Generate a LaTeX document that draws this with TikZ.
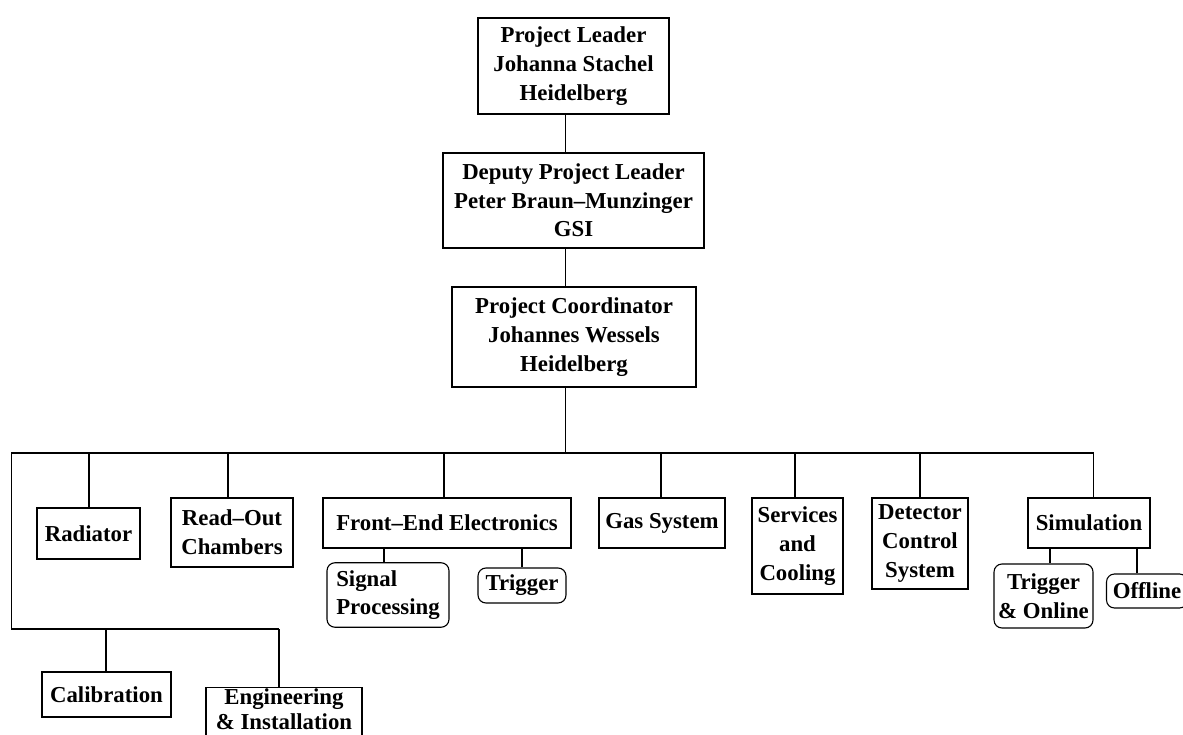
\documentclass[tikz,border=0pt]{standalone}
\usepackage{fontspec}
\setmainfont{Liberation Serif}
\begin{document}
\begin{tikzpicture}[x=1pt,y=-1pt,
  every node/.style={font=\fontsize{22.8}{28.7}\selectfont\bfseries},
  box/.style={draw, line width=1.1pt, inner sep=0pt, align=center},
  rbox/.style={box, rounded corners=8pt},
  link/.style={line width=1.1pt}]
\path[use as bounding box, fill=white] (0,0) rectangle (1183,735);
\clip (0,0) rectangle (1183,735);
% top chain
\node[box, minimum width=191pt, minimum height=96pt] (pl) at (573.5,66) {Project Leader\\Johanna Stachel\\Heidelberg};
\node[box, minimum width=261pt, minimum height=95pt] (dpl) at (573.5,200.5) {Deputy Project Leader\\Peter Braun–Munzinger\\GSI};
\node[box, minimum width=244pt, minimum height=100pt] (pc) at (574,337) {Project Coordinator\\Johannes Wessels\\Heidelberg};
\coordinate (spine) at (565.5,0);
\draw[link] (pl.south -| spine) -- (dpl.north -| spine);
\draw[link] (dpl.south -| spine) -- (pc.north -| spine);
% bus
\coordinate (busL) at (11.5,453);
\coordinate (busR) at (1093.5,453);
\coordinate (low) at (11.5,629);
\coordinate (lowR) at (279,629);
\draw[link] (pc.south -| spine) -- (busL -| spine);
\draw[link] (lowR) -- (low) -- (busL) -- (busR);
% first row
\node[box, minimum width=103pt, minimum height=51pt] (rad) at (88.5,533.5) {Radiator};
\node[box, minimum width=122pt, minimum height=69pt] (roc) at (232,532.5) {Read–Out\\Chambers};
\node[box, minimum width=248pt, minimum height=50pt] (fee) at (447,523) {Front–End Electronics};
\node[box, minimum width=126pt, minimum height=50pt] (gas) at (662,523) {Gas System};
\node[box, minimum width=91pt, minimum height=96pt] (svc) at (797.5,546) {Services\\and\\Cooling};
\node[box, minimum width=96pt, minimum height=91pt] (dcs) at (920,543.5) {Detector\\Control\\System};
\node[box, minimum width=122pt, minimum height=50pt] (sim) at (1089,523) {Simulation};
\coordinate (b1) at (89,453);
\coordinate (b2) at (228,453);
\coordinate (b3) at (444,453);
\coordinate (b4) at (661,453);
\coordinate (b5) at (795,453);
\coordinate (b6) at (920,453);
\draw[link] (b1) -- (b1 |- rad.north);
\draw[link] (b2) -- (b2 |- roc.north);
\draw[link] (b3) -- (b3 |- fee.north);
\draw[link] (b4) -- (b4 |- gas.north);
\draw[link] (b5) -- (b5 |- svc.north);
\draw[link] (b6) -- (b6 |- dcs.north);
\draw[link] (busR) -- (busR |- sim.north);
% sub boxes
\node[rbox, align=left, minimum width=122pt, minimum height=64.5pt] (sig) at (388,595) {Signal\\Processing};
\node[rbox, minimum width=88pt, minimum height=35pt] (trg) at (522,585.5) {Trigger};
\node[rbox, minimum width=99pt, minimum height=64pt] (tro) at (1043.5,596) {Trigger\\\& Online};
\node[rbox, minimum width=81pt, minimum height=34pt] (off) at (1147,591) {Offline};
\draw[link] ([xshift=-4pt]sig.north) -- ([xshift=-4pt]sig.north |- fee.south);
\draw[link] (trg.north) -- (trg.north |- fee.south);
\draw[link] ([xshift=6.5pt]tro.north) -- ([xshift=6.5pt]tro.north |- sim.south);
\draw[link] ([xshift=-10pt]off.north) -- ([xshift=-10pt]off.north |- sim.south);
% second row
\node[box, minimum width=129pt, minimum height=45pt] (cal) at (106.5,694.5) {Calibration};
\node[box, anchor=north, minimum width=156pt, inner ysep=1.5pt, text depth=20pt,
      font=\fontsize{22.8}{25}\selectfont\bfseries] (eng) at (284,687) {Engineering\\\& Installation};
\coordinate (c1) at (106,629);
\draw[link] (c1) -- (c1 |- cal.north);
\draw[link] (lowR) -- (lowR |- eng.north);
\end{tikzpicture}
\end{document}
